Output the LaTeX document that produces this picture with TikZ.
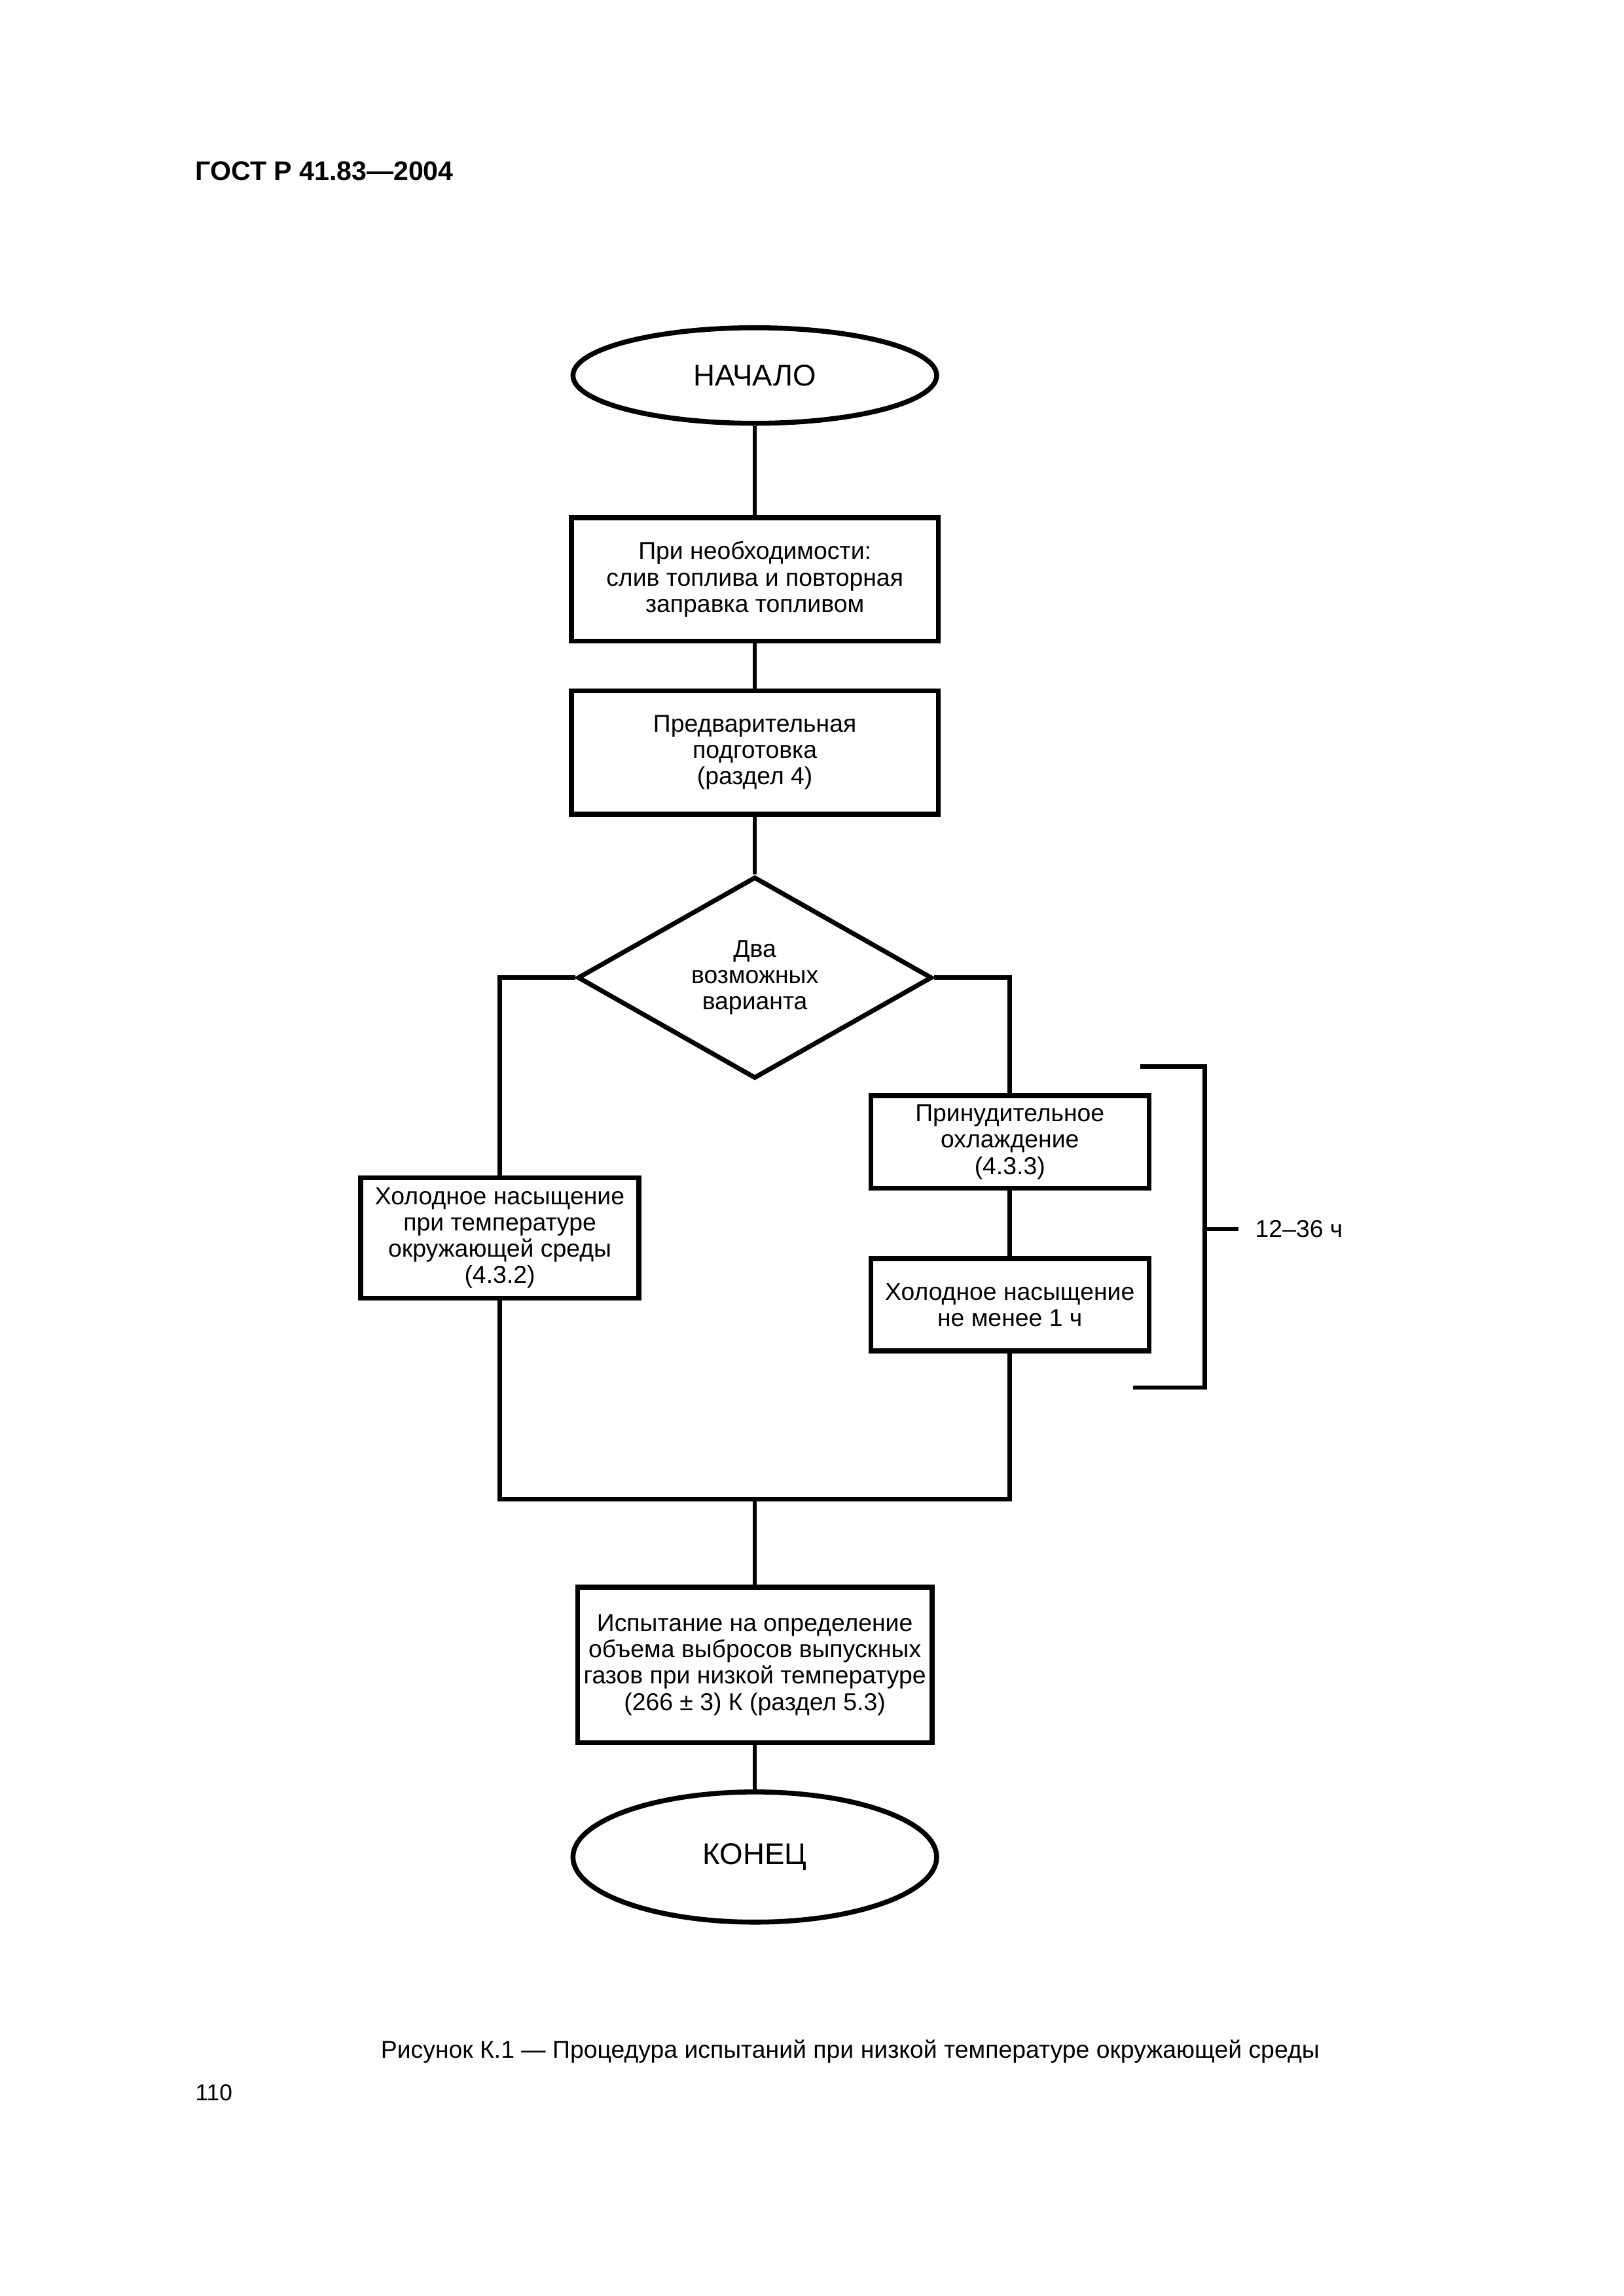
\documentclass[tikz,border=0pt]{standalone}
\usepackage{fontspec}
\setmainfont{Liberation Sans}
\usetikzlibrary{shapes.geometric}

\begin{document}
\begin{tikzpicture}[x=0.18957mm,y=-0.18974mm,
    lin/.style={line width=0.56mm},
    procbox/.style={draw,line width=0.62mm,align=center,inner sep=0pt,
      font=\fontsize{9}{9.7}\selectfont},
    termell/.style={draw,ellipse,line width=0.64mm,inner sep=0pt,
      minimum width=47.04mm,font=\fontsize{11}{13}\selectfont},
    decide/.style={draw,diamond,line width=0.6mm,align=center,inner sep=0pt,
      font=\fontsize{9}{9.7}\selectfont}]
  \useasboundingbox (0,0) rectangle (210mm,-297mm);
  % header
  \node[anchor=base west,inner sep=0pt,font=\fontsize{9.9}{11}\selectfont\bfseries] (gost) at (133,123) {ГОСТ Р 41.83—2004};
  %
  \node[termell,minimum height=12.36mm] (start) at (515,256) {НАЧАЛО};
  \node[procbox,minimum width=47.44mm,minimum height=15.95mm] (fuel) at (515,395)
    {При необходимости:\\слив топлива и повторная\\заправка топливом};
  \node[procbox,minimum width=47.44mm,minimum height=15.95mm] (prep) at (515,513)
    {Предварительная\\подготовка\\(раздел 4)};
  \node[decide,minimum width=45.84mm,minimum height=26.01mm] (choice) at (515,666.5)
    {Два\\возможных\\варианта};
  \node[procbox,minimum width=35.98mm,minimum height=15.55mm] (cold) at (341,844)
    {Холодное насыщение\\при температуре\\окружающей среды\\(4.3.2)};
  \node[procbox,minimum width=35.98mm,minimum height=11.96mm] (cool) at (689,778.5)
    {Принудительное\\охлаждение\\(4.3.3)};
  \node[procbox,minimum width=35.98mm,minimum height=11.96mm] (soak) at (689,889.5)
    {Холодное насыщение\\не менее 1 ч};
  \node[procbox,minimum width=45.84mm,minimum height=20.13mm] (test) at (515,1135)
    {Испытание на определение\\объема выбросов выпускных\\газов при низкой температуре\\(266 ± 3) К (раздел 5.3)};
  \node[termell,minimum height=16.84mm] (stop) at (515,1266) {КОНЕЦ};
  % connectors
  \coordinate (join) at (515,1022);
  \draw[lin] (start) -- (fuel);
  \draw[lin] (fuel) -- (prep);
  \draw[lin] (prep) -- (choice);
  \draw[lin] (choice.west) -| (cold.north);
  \draw[lin] (choice.east) -| (cool.north);
  \draw[lin] (cool) -- (soak);
  \draw[lin] (cold.south) |- (join) -| (soak.south);
  \draw[lin] (join) -- (test);
  \draw[lin] (test) -- (stop);
  % bracket 12--36 h
  \coordinate (brtop) at (778,727);
  \coordinate (brbot) at (773,946);
  \coordinate (brmid) at (822,838);
  \draw[lin] (brtop) -| (brmid) |- (brbot);
  \node[anchor=west,inner xsep=2.1mm,inner ysep=0pt,font=\fontsize{9}{9.7}\selectfont] (span) at (845,838) {12–36 ч};
  \draw[lin] (brmid) -- (span.west);
  % caption
  \node[anchor=base,inner sep=0pt,font=\fontsize{9}{11}\selectfont] (capt) at (580,1403)
    {Рисунок К.1 — Процедура испытаний при низкой температуре окружающей среды};
  \node[anchor=base west,inner sep=0pt,font=\fontsize{8.5}{10}\selectfont] (page) at (133,1432) {110};
\end{tikzpicture}
\end{document}
